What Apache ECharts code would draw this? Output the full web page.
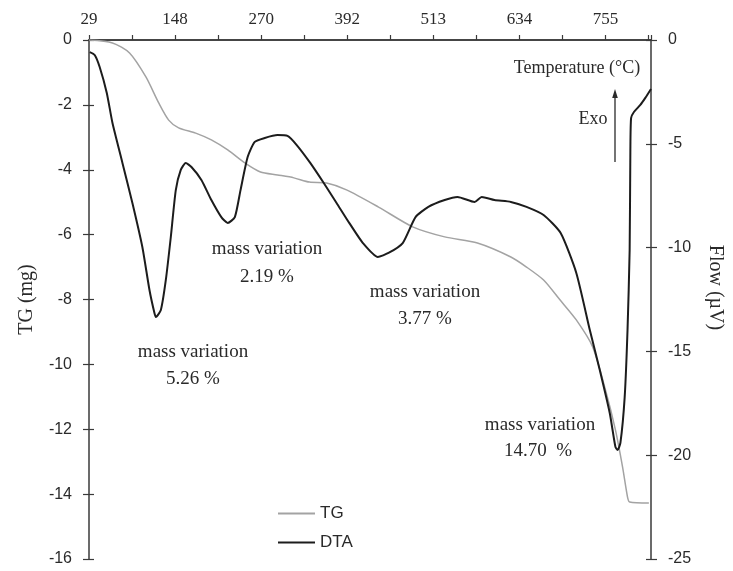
<!DOCTYPE html>
<html>
<head>
<meta charset="utf-8">
<script src="https://cdn.jsdelivr.net/npm/echarts@6/dist/echarts.min.js"></script>
<style>
html,body{margin:0;padding:0;background:#fff;}
#chart{width:733px;height:571px;}
</style>
</head>
<body>
<div id="chart"></div>
<script>
// Temperature tick labels (top axis)
const tempTickLabels = ['29','148','270','392','513','634','755'];
// TG curve (mass, mg) vs temperature
const tgTemp = [29,62,86,109,127,141,155,179,201,224,248,270,294,317,339,363,391,436,484,529,575,622,644,668,691,714,737,755,769,779,786,789,816];
const tgMass = [0,-0.09,-0.40,-1.14,-1.94,-2.47,-2.71,-2.87,-3.08,-3.39,-3.79,-4.07,-4.16,-4.25,-4.38,-4.41,-4.62,-5.15,-5.76,-6.07,-6.26,-6.69,-7.00,-7.40,-8.01,-8.63,-9.46,-10.79,-12.02,-13.16,-14.09,-14.24,-14.27];
// DTA curve (flow, µV) vs temperature
const dtaTemp = [30,37,44,54,62,76,90,104,114,121,123,130,137,144,151,158,165,173,187,201,215,224,234,242,252,262,276,294,308,321,340,359,377,395,414,435,450,470,488,506,529,547,571,581,599,622,644,668,692,714,733,747,761,769,772,776,782,786,789,790,791,795,804,811,819];
const dtaFlow = [-0.58,-0.72,-1.30,-2.55,-4.00,-5.92,-7.85,-9.97,-12.04,-13.15,-13.34,-13.01,-11.56,-9.49,-7.23,-6.26,-5.92,-6.12,-6.74,-7.71,-8.53,-8.81,-8.53,-7.23,-5.64,-4.91,-4.72,-4.58,-4.62,-5.06,-5.92,-6.89,-7.85,-8.82,-9.78,-10.45,-10.26,-9.78,-8.53,-8.04,-7.71,-7.56,-7.80,-7.56,-7.71,-7.80,-8.04,-8.43,-9.30,-11.22,-13.97,-15.90,-17.97,-19.60,-19.75,-19.41,-17.20,-13.97,-10.1,-5.3,-3.76,-3.47,-3.13,-2.79,-2.36];

const tMin = 29, tMax = 819, tStep = 121;
const axisColor = '#3a3a3a';
const serif = 'Liberation Serif';
const sans = 'Liberation Sans';

const tgData = tgTemp.map((t,i)=>[t,tgMass[i]]);
const dtaData = dtaTemp.map((t,i)=>[t,dtaFlow[i]]);

const chart = echarts.init(document.getElementById('chart'));

function txt(text, x, y, size, family){
  return {type:'text', x:x, y:y, style:{text:text, fill:'#2a2a2a', font: size+'px "'+(family||serif)+'"', textAlign:'center', textVerticalAlign:'middle'}};
}

chart.setOption({
  animation:false,
  backgroundColor:'#fff',
  grid:{left:89, right:74, top:40, bottom:12},
  legend:{
    orient:'vertical', left:272, top:500, itemWidth:37, itemHeight:12, itemGap:12,
    itemStyle:{opacity:0},
    textStyle:{fontFamily:sans, fontSize:17, color:'#2a2a2a'},
    data:['TG','DTA']
  },
  xAxis:[
    {type:'value', position:'top', min:tMin, max:tMax, interval:tStep,
     axisLine:{show:true, lineStyle:{color:axisColor, width:1.5}},
     axisTick:{show:true, length:5, lineStyle:{color:axisColor, width:1.2}},
     minorTick:{show:true, splitNumber:2, length:5, lineStyle:{color:axisColor, width:1.2}},
     splitLine:{show:false},
     axisLabel:{margin:12, fontFamily:serif, fontSize:17, color:'#2a2a2a',
       formatter:function(v){ const k=Math.round((v-tMin)/tStep); if(Math.abs(v-(tMin+k*tStep))<0.5 && tempTickLabels[k]!==undefined) return tempTickLabels[k]; return ''; }}
    },
    {type:'value', position:'bottom', min:tMin, max:tMax,
     axisLine:{show:true, lineStyle:{color:axisColor, width:1.5}},
     axisTick:{show:false}, axisLabel:{show:false}, splitLine:{show:false}}
  ],
  yAxis:[
    {type:'value', position:'left', min:-16, max:0, interval:2,
     name:'TG (mg)', nameLocation:'middle', nameRotate:90, nameGap:52,
     nameTextStyle:{fontFamily:serif, fontSize:20, color:'#2a2a2a'},
     axisLine:{show:true, lineStyle:{color:axisColor, width:1.5}},
     axisTick:{show:true, length:6, lineStyle:{color:axisColor, width:1.2}},
     axisLabel:{margin:17, fontFamily:sans, fontSize:16, color:'#2a2a2a'},
     splitLine:{show:false}},
    {type:'value', position:'left', min:-16, max:0, interval:2,
     axisLine:{show:false}, axisLabel:{show:false}, splitLine:{show:false},
     axisTick:{show:true, inside:true, length:5, lineStyle:{color:axisColor, width:1.2}}},
    {type:'value', position:'right', min:-25, max:0, interval:5,
     name:'Flow (µV)', nameLocation:'middle', nameRotate:-90, nameGap:54,
     nameTextStyle:{fontFamily:serif, fontSize:20, color:'#2a2a2a', padding:[0,24,0,0]},
     axisLine:{show:true, lineStyle:{color:axisColor, width:1.5}},
     axisTick:{show:true, length:6, lineStyle:{color:axisColor, width:1.2}},
     axisLabel:{margin:17, fontFamily:sans, fontSize:16, color:'#2a2a2a'},
     splitLine:{show:false}},
    {type:'value', position:'right', min:-25, max:0, interval:5,
     axisLine:{show:false}, axisLabel:{show:false}, splitLine:{show:false},
     axisTick:{show:true, inside:true, length:5, lineStyle:{color:axisColor, width:1.2}}}
  ],
  series:[
    {name:'TG', type:'line', xAxisIndex:0, yAxisIndex:0, data:tgData, symbol:'none',
     smooth:0.25, lineStyle:{color:'#a3a3a3', width:1.5}, itemStyle:{color:'#a3a3a3'}},
    {name:'DTA', type:'line', xAxisIndex:0, yAxisIndex:2, data:dtaData, symbol:'none',
     smooth:0.2, lineStyle:{color:'#1c1c1c', width:2}, itemStyle:{color:'#1c1c1c'}}
  ],
  graphic:[
    txt('mass variation',193,352,19), txt('5.26 %',193,379,19),
    txt('mass variation',267,249,19), txt('2.19 %',267,277,19),
    txt('mass variation',425,292,19), txt('3.77 %',425,319,19),
    txt('mass variation',540,425,19), txt('14.70  %',538,451,19),
    txt('Temperature (°C)',577,68,18),
    txt('Exo',593,119,18),
    {type:'line', shape:{x1:615,y1:162,x2:615,y2:96}, style:{stroke:'#2a2a2a', lineWidth:1.3}},
    {type:'polygon', shape:{points:[[615,89],[612.2,98],[617.8,98]]}, style:{fill:'#2a2a2a'}}
  ]
});
</script>
</body>
</html>
